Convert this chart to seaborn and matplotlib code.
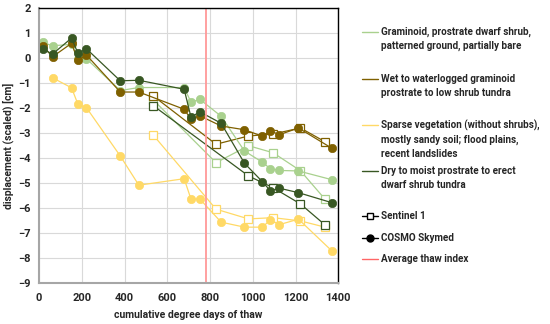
import matplotlib
matplotlib.use('Agg')
import matplotlib.pyplot as plt
from matplotlib.lines import Line2D
import seaborn as sns
import numpy as np

sns.set_style("whitegrid")
plt.rcParams['font.family'] = ['Roboto', 'DejaVu Sans']

# -------------------------------Datos
# COSMO Skymed (circulos)
cosmo_x = [17, 63, 152, 182, 222, 380, 467, 679, 711, 752, 852, 961, 1045, 1082, 1124, 1214, 1370]
gram_cosmo = [0.63, 0.49, 0.55, -0.05, -0.03, -1.30, -1.18, -1.18, -1.77, -1.65, -2.33, -3.72, -4.17, -4.43, -4.50, -4.52, -4.87]
wet_cosmo = [0.49, 0.05, 0.59, -0.09, 0.12, -1.36, -1.36, -2.05, -2.45, -2.31, -2.72, -2.87, -3.13, -2.91, -3.07, -2.80, -3.61]
dry_cosmo = [0.36, 0.16, 0.80, 0.19, 0.37, -0.91, -0.89, -1.25, -2.37, -2.15, -2.61, -4.21, -4.95, -5.31, -5.21, -5.39, -5.79]
sparse_cosmo_x = [63, 152, 182, 222, 380, 467, 679, 711, 752, 852, 961, 1045, 1082, 1124, 1214, 1370]
sparse_cosmo = [-0.79, -1.19, -1.85, -1.99, -3.92, -5.09, -4.83, -5.65, -5.64, -6.57, -6.77, -6.77, -6.48, -6.67, -6.45, -7.72]

# Sentinel 1 (cuadrados)
s1_x = [535, 828, 980, 1095, 1223, 1338]
gram_s1 = [-1.68, -4.19, -3.51, -3.79, -4.51, -5.65]
wet_s1 = [-1.52, -3.45, -3.12, -3.04, -2.80, -3.35]
sparse_s1 = [-3.09, -6.05, -6.44, -6.39, -6.52, -6.77]
dry_s1_x = [535, 980, 1095, 1223, 1338]
dry_s1 = [-1.91, -4.72, -5.19, -5.84, -6.68]

thaw_index = 780

labels = [['Graminoid, prostrate dwarf shrub,', 'patterned ground, partially bare'],
          ['Wet to waterlogged graminoid', 'prostrate to low shrub tundra'],
          ['Sparse vegetation (without shrubs),', 'mostly sandy soil; flood plains,', 'recent landslides'],
          ['Dry to moist prostrate to erect', 'dwarf shrub tundra'],
          ['Sentinel 1'], ['COSMO Skymed'], ['Average thaw index']]
colores = ['#a9d18e', '#7f6000', '#ffd966', '#385723']

fig = plt.figure(figsize=(5.5, 3.24), dpi=100)
ax = fig.add_axes([0.071, 0.127, 0.544, 0.848])

cosmo = [(cosmo_x, gram_cosmo), (cosmo_x, wet_cosmo), (sparse_cosmo_x, sparse_cosmo), (cosmo_x, dry_cosmo)]
sent = [(s1_x, gram_s1), (s1_x, wet_s1), (s1_x, sparse_s1), (dry_s1_x, dry_s1)]

for (xs, ys), c in zip(sent, colores):
    sns.lineplot(x=xs, y=ys, ax=ax, color=c, lw=0.9, marker='s', markersize=6,
                 markerfacecolor='white', markeredgecolor=c, markeredgewidth=0.9)
for (xs, ys), c in zip(cosmo, colores):
    sns.lineplot(x=xs, y=ys, ax=ax, color=c, lw=0.9, marker='o', markersize=6,
                 markeredgecolor=c, markeredgewidth=0.5)

ax.axvline(thaw_index, color='#ff9999', lw=1.3)

ax.set_xlim(0, 1400)
ax.set_ylim(-9, 2)
ax.set_xticks(np.arange(0, 1401, 200))
ax.set_yticks(np.arange(-9, 3, 1))
ax.grid(True, color='#d9d9d9', lw=0.8)
ax.tick_params(axis='y', labelsize=8, pad=6, length=0)
ax.tick_params(axis='x', labelsize=8, pad=7, length=0)
for lab in ax.get_xticklabels() + ax.get_yticklabels():
    lab.set_fontweight('bold')
ax.set_xlabel('cumulative degree days of thaw', fontsize=7.5, fontweight='bold', labelpad=5)
ax.set_ylabel('displacement (scaled) [cm]', fontsize=7.5, fontweight='bold', labelpad=3)

for s in ['top', 'right']:
    ax.spines[s].set_color('black')
    ax.spines[s].set_linewidth(1.0)
for s in ['left', 'bottom']:
    ax.spines[s].set_color('#a6a6a6')
    ax.spines[s].set_linewidth(1.5)

# leyenda: una caja por entrada, el simbolo en la primera linea
handles = [Line2D([], [], color=c, lw=1) for c in colores]
handles += [Line2D([], [], color='black', lw=1, marker='s', markersize=5, markerfacecolor='white'),
            Line2D([], [], color='black', lw=1, marker='o', markersize=5),
            Line2D([], [], color='#ff6666', lw=1)]
first_line_y = [33, 80, 126, 172, 217, 239, 260]
blank = Line2D([], [], color='none')
for h, lab, yc in zip(handles, labels, first_line_y):
    hs = [h] + [blank] * (len(lab) - 1)
    leg = fig.legend(hs, lab, loc='upper left', bbox_to_anchor=(0.658, (324 - yc + 6) / 324),
                     frameon=False, fontsize=7.1, handlelength=1.6, handletextpad=0.3,
                     labelspacing=0.38, borderpad=0, borderaxespad=0)
    for t in leg.get_texts():
        t.set_fontweight('bold')

plt.savefig('out.png', dpi=100)
